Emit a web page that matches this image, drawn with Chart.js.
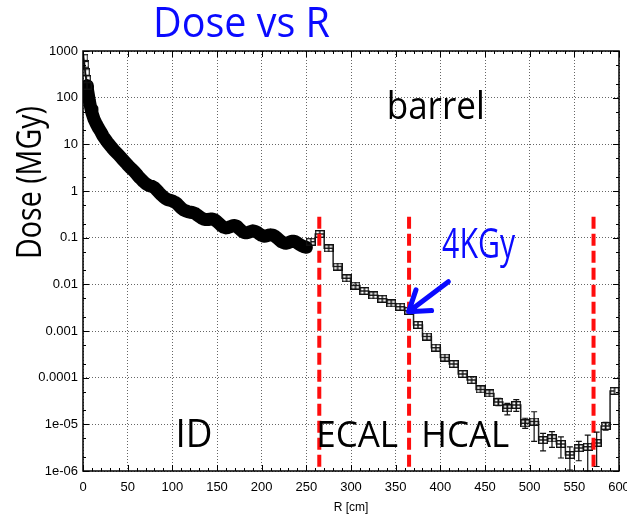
<!DOCTYPE html>
<html>
<head>
<meta charset="utf-8">
<script src="https://cdn.jsdelivr.net/npm/chart.js@4.4.0/dist/chart.umd.min.js"></script>
<style>
  html, body { margin: 0; padding: 0; background: #fff; overflow: hidden; }
  canvas { display: block; }
</style>
</head>
<body>
<canvas id="dose" width="640" height="519"></canvas>
<script>
// inner detector: radius [cm] and dose [MGy]
const idR = [0.5, 1.5, 2.5, 3.5, 4.5, 5, 6, 7, 8, 9, 10,
  12.5, 15, 17.5, 20, 22.5, 25, 27.5, 30, 32.5, 35, 37.5, 40, 42.5, 45, 47.5, 50,
  52.5, 55, 57.5, 60, 62.5, 65, 67.5, 70, 72.5, 75, 77.5, 80, 82.5, 85, 87.5, 90,
  92.5, 95, 97.5, 100, 102.5, 105, 107.5, 110, 112.5, 115, 117.5, 120, 122.5, 125,
  127.5, 130, 132.5, 135, 137.5, 140, 142.5, 145, 147.5, 150, 152.5, 155, 157.5, 160,
  162.5, 165, 167.5, 170, 172.5, 175, 177.5, 180, 182.5, 185, 187.5, 190, 192.5, 195,
  197.5, 200, 202.5, 205, 207.5, 210, 212.5, 215, 217.5, 220, 222.5, 225, 227.5, 230,
  232.5, 235, 237.5, 240, 242.5, 245, 247.5, 250];
const idDose = [720, 520, 350, 250, 180, 150, 115, 88, 70, 57, 47,
  34, 27, 22, 18.5, 15, 12.8, 11, 9.6, 8.4, 7.4, 6.6, 5.9, 5.2, 4.6, 4.1, 3.6,
  3.2, 2.9, 2.6, 2.3, 2.0, 1.8, 1.6, 1.45, 1.35, 1.28, 1.25, 1.18, 1.05, 0.93, 0.83, 0.75,
  0.69, 0.65, 0.63, 0.61, 0.58, 0.54, 0.48, 0.43, 0.395, 0.375, 0.36, 0.35, 0.345, 0.335,
  0.31, 0.285, 0.265, 0.25, 0.245, 0.245, 0.25, 0.25, 0.24, 0.22, 0.2, 0.18, 0.168, 0.162,
  0.165, 0.172, 0.18, 0.182, 0.175, 0.155, 0.14, 0.13, 0.127, 0.13, 0.135, 0.14, 0.137, 0.13,
  0.12, 0.112, 0.107, 0.108, 0.113, 0.115, 0.113, 0.107, 0.098, 0.089, 0.081, 0.077, 0.076, 0.078,
  0.082, 0.084, 0.082, 0.077, 0.071, 0.067, 0.064, 0.062];

// calorimeter region: 10 cm bins
const binR = [255, 265, 275, 285, 295, 305, 315, 325, 335, 345, 355, 365, 375, 385, 395,
  405, 415, 425, 435, 445, 455, 465, 475, 485, 495, 505, 515, 525, 535, 545, 555, 565,
  575, 585, 595];
const binDose = [0.082, 0.12, 0.059, 0.024, 0.0135, 0.0094, 0.0072, 0.0058, 0.0049, 0.0039,
  0.0033, 0.0027, 0.00135, 0.00076, 0.00044, 0.00027, 0.000196, 0.00012, 8.9e-5, 5.6e-5,
  4.6e-5, 3.0e-5, 2.2e-5, 2.6e-5, 1.05e-5, 1.15e-5, 4.6e-6, 5.0e-6, 3.8e-6, 2.2e-6, 3.1e-6,
  3.3e-6, 4.0e-6, 9.2e-6, 5.2e-5];
const errLow = [null, null, null, null, null, null, null, null, null, null, null, null, null,
  null, null, null, null, null, null, null, null, 2.5e-5, 1.6e-5, 1.9e-5, 8.2e-6, 4.3e-6,
  2.7e-6, 3.2e-6, 1.9e-6, 1.05e-6, 1.66e-6, 1e-6, 1.25e-6, 7.5e-6, null];
const errHigh = [null, null, null, null, null, null, null, null, null, null, null, null, null,
  null, null, null, null, null, null, null, null, 3.6e-5, 2.8e-5, 3.4e-5, 1.35e-5, 1.86e-5,
  6.4e-6, 7e-6, 5.4e-6, 3.3e-6, 4.3e-6, 5.9e-6, 6.8e-6, 1.1e-5, null];

// sub-detector boundaries [cm]
const boundaries = [264.5, 365, 571.5];
const boundaryTop = 0.28;

const xTicks = [0, 50, 100, 150, 200, 250, 300, 350, 400, 450, 500, 550, 600];
const yTicks = [1e-6, 1e-5, 1e-4, 1e-3, 1e-2, 0.1, 1, 10, 100, 1000];
const yTickLabels = ['1e-06', '1e-05', '0.0001', '0.001', '0.01', '0.1', '1', '10', '100', '1000'];

const labels = [
  { text: 'barrel', r: 340, v: 35, size: 38, width: 98, color: '#000' },
  { text: '4KGy', r: 402, v: 0.037, size: 42, width: 73, color: '#0a0aff' },
  { text: 'ID', r: 103.5, v: 3.3e-6, size: 39, width: 37, color: '#000' },
  { text: 'ECAL', r: 261, v: 3.3e-6, size: 37, width: 82, color: '#000' },
  { text: 'HCAL', r: 378.6, v: 3.3e-6, size: 37, width: 88, color: '#000' }
];
const arrowTail = { r: 409, v: 0.0114 };
const arrowTip = { r: 364.5, v: 0.0026 };

// target plot frame in the 627x519 picture
const frameBox = { left: 83, top: 51, right: 619, bottom: 471 };

function makeMarker(w, h) {
  const c = document.createElement('canvas');
  c.width = w; c.height = h;
  const g = c.getContext('2d');
  g.strokeStyle = '#111';
  g.lineWidth = 1.4;
  g.strokeRect(0.7, 0.7, w - 1.4, h - 1.4);
  g.beginPath();
  g.moveTo(w / 2, 0); g.lineTo(w / 2, h);
  g.stroke();
  return c;
}
const marker = makeMarker(10, 8);

function fitText(ctx, text, x, y, size, width) {
  ctx.font = size + 'px "Open Sans"';
  const w = ctx.measureText(text).width;
  ctx.save();
  ctx.translate(x, y);
  ctx.scale(width / w, 1);
  ctx.fillText(text, 0, 0);
  ctx.restore();
}

const errorBars = {
  id: 'errorBars',
  afterDatasetsDraw(chart) {
    const { ctx, scales: { x, y } } = chart;
    ctx.save();
    ctx.strokeStyle = '#111';
    ctx.lineWidth = 1.2;
    binR.forEach((r, i) => {
      if (errLow[i] == null) return;
      const px = x.getPixelForValue(r);
      const lo = y.getPixelForValue(errLow[i]);
      const hi = y.getPixelForValue(errHigh[i]);
      ctx.beginPath();
      ctx.moveTo(px, lo); ctx.lineTo(px, hi);
      ctx.moveTo(px - 3, lo); ctx.lineTo(px + 3, lo);
      ctx.moveTo(px - 3, hi); ctx.lineTo(px + 3, hi);
      ctx.stroke();
    });
    ctx.restore();
  }
};

const frame = {
  id: 'frame',
  afterDatasetsDraw(chart) {
    const { ctx, chartArea: a, scales: { x, y } } = chart;
    ctx.save();
    ctx.strokeStyle = '#000';
    ctx.lineWidth = 1;
    ctx.beginPath();
    for (let r = 0; r <= 600; r += 10) {
      const px = Math.round(x.getPixelForValue(r)) + 0.5;
      const len = r % 50 === 0 ? 6 : 3;
      ctx.moveTo(px, a.bottom); ctx.lineTo(px, a.bottom - len);
      ctx.moveTo(px, a.top); ctx.lineTo(px, a.top + len);
    }
    yTicks.forEach(t => {
      [1, 2, 5].forEach(m => {
        const v = t * m;
        if (v > 1000) return;
        const py = Math.round(y.getPixelForValue(v)) + 0.5;
        const len = m === 1 ? 6 : 3;
        ctx.moveTo(a.left, py); ctx.lineTo(a.left + len, py);
        ctx.moveTo(a.right, py); ctx.lineTo(a.right - len, py);
      });
    });
    ctx.stroke();
    ctx.lineWidth = 1.5;
    ctx.strokeRect(a.left, a.top, a.right - a.left, a.bottom - a.top);
    ctx.restore();
  }
};

const notes = {
  id: 'notes',
  afterDraw(chart) {
    const { ctx, scales: { x, y } } = chart;
    ctx.save();
    ctx.textBaseline = 'alphabetic';
    labels.forEach(l => {
      ctx.fillStyle = l.color;
      fitText(ctx, l.text, x.getPixelForValue(l.r), y.getPixelForValue(l.v), l.size, l.width);
    });

    // arrow to the HCAL entrance
    const tx = x.getPixelForValue(arrowTip.r), ty = y.getPixelForValue(arrowTip.v);
    const sx = x.getPixelForValue(arrowTail.r), sy = y.getPixelForValue(arrowTail.v);
    const ang = Math.atan2(sy - ty, sx - tx);
    ctx.strokeStyle = '#0a0aff';
    ctx.lineWidth = 5;
    ctx.lineCap = 'round';
    ctx.lineJoin = 'round';
    ctx.beginPath();
    ctx.moveTo(sx, sy); ctx.lineTo(tx + 2 * Math.cos(ang), ty + 2 * Math.sin(ang));
    ctx.moveTo(tx + 23 * Math.cos(ang - 0.6), ty + 23 * Math.sin(ang - 0.6));
    ctx.lineTo(tx, ty);
    ctx.lineTo(tx + 23 * Math.cos(ang + 0.6), ty + 23 * Math.sin(ang + 0.6));
    ctx.stroke();

    // title and y axis title
    ctx.fillStyle = '#0a0aff';
    fitText(ctx, 'Dose vs R', 153, 37, 42, 177);
    ctx.fillStyle = '#000';
    ctx.translate(41, 259);
    ctx.rotate(-Math.PI / 2);
    fitText(ctx, 'Dose (MGy)', 0, 0, 35, 153);
    ctx.restore();
  }
};

const datasets = boundaries.map(r => ({
  label: 'boundary',
  data: [{ x: r, y: boundaryTop }, { x: r, y: 1e-6 }],
  showLine: true,
  borderColor: '#ff0d0d',
  borderWidth: 4,
  borderDash: [12, 5],
  pointRadius: 0
}));
datasets.push({
  label: 'calorimeters',
  data: binR.map((r, i) => ({ x: r, y: binDose[i] })),
  showLine: true,
  stepped: 'middle',
  borderColor: '#222',
  borderWidth: 1.5,
  pointStyle: marker,
  pointRadius: 5
});
datasets.push({
  label: 'inner detector',
  data: idR.map((r, i) => ({ x: r, y: idDose[i] })),
  showLine: true,
  borderColor: '#000',
  borderWidth: 13,
  borderJoinStyle: 'round',
  borderCapStyle: 'round',
  segment: { borderWidth: c => c.p0.parsed.x < 4.5 ? 1.5 : 13 },
  pointStyle: marker,
  pointRadius: c => (c.raw && c.raw.x < 5 ? 5 : 0)
});

const chart = new Chart(document.getElementById('dose'), {
  type: 'scatter',
  data: { datasets: datasets },
  plugins: [errorBars, frame, notes],
  options: {
    responsive: false,
    animation: false,
    layout: { padding: { top: 51, right: 16, left: 0, bottom: 0 } },
    plugins: { legend: { display: false }, tooltip: { enabled: false } },
    scales: {
      x: {
        type: 'linear',
        min: 0, max: 600,
        afterBuildTicks: s => { s.ticks = xTicks.map(v => ({ value: v })); },
        afterFit: s => { s.height = 48; },
        grid: { color: '#666', lineWidth: 1, drawTicks: false },
        border: { display: false, dash: [1, 2] },
        ticks: { color: '#000', padding: 9, maxRotation: 0, font: { family: '"Liberation Sans"', size: 13 } },
        title: { display: true, text: 'R [cm]', color: '#000', padding: { top: 2, bottom: 4 },
          font: { family: '"Liberation Sans"', size: 12 } }
      },
      y: {
        type: 'logarithmic',
        min: 1e-6, max: 1000,
        afterBuildTicks: s => { s.ticks = yTicks.map(v => ({ value: v })); },
        afterFit: s => { s.width = 83; },
        grid: { color: '#666', lineWidth: 1, drawTicks: false },
        border: { display: false, dash: [1, 2] },
        ticks: {
          color: '#000', padding: 5, font: { family: '"Liberation Sans"', size: 13 },
          callback: v => { const i = yTicks.findIndex(t => Math.abs(Math.log10(t) - Math.log10(v)) < 1e-6); return i >= 0 ? yTickLabels[i] : ''; }
        }
      }
    }
  }
});

// the canvas is a little wider than the window (the last x label is cut, as in the
// reference); nudge the right padding until the plot frame ends where it should
for (let k = 0; k < 5; k++) {
  const d = chart.chartArea.right - frameBox.right;
  if (Math.abs(d) < 0.3) break;
  chart.options.layout.padding.right = Math.max(0, chart.options.layout.padding.right + d);
  chart.update();
}
</script>
</body>
</html>
